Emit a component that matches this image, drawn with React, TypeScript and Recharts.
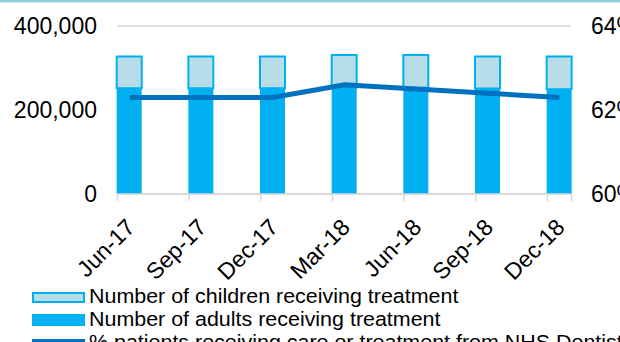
import React from "react";
import {
  ComposedChart,
  Bar,
  Line,
  XAxis,
  YAxis,
  CartesianGrid,
} from "recharts";

const categories = ["Jun-17", "Sep-17", "Dec-17", "Mar-18", "Jun-18", "Sep-18", "Dec-18"];
const adults = [251700, 251700, 251500, 253100, 253000, 251000, 249300];
const children = [75700, 75700, 75900, 77900, 78000, 76400, 78100];
const percentPatients = [62.3, 62.3, 62.3, 62.6, 62.5, 62.4, 62.3];
const leftTicks = [0, 200000, 400000];
const rightTicks = [60, 62, 64];
const legendLabels = [
  "Number of children receiving treatment",
  "Number of adults receiving treatment",
  "% patients receiving care or treatment from NHS Dentists",
];

const data = categories.map((c, i) => ({
  name: c,
  adults: adults[i],
  children: children[i],
  pct: percentPatients[i],
}));

const FONT = "'Liberation Sans', Arial, sans-serif";
const GRID = "#D9D9D9";

const XTick = (props: any) => {
  const { x, y, payload, index } = props;
  const lastIndex = categories.length - 1;
  return (
    <g>
      <line x1={x - 12} x2={x - 12} y1={y} y2={y + 7} stroke={GRID} strokeWidth={1.5} />
      {index === lastIndex && (
        <line x1={x + 12} x2={x + 12} y1={y} y2={y + 7} stroke={GRID} strokeWidth={1.5} />
      )}
      <g transform={`translate(${x + 1},${y + 29})`}>
        <text
          transform="rotate(-45)"
          textAnchor="end"
          dy="0.35em"
          fill="#000"
          fontSize={23}
          fontFamily={FONT}
        >
          {payload.value}
        </text>
      </g>
    </g>
  );
};

const fmt = (v: number) => v.toLocaleString("en-US");

const LegendRows = () => {
  const baselines = [303.3, 326, 348.5];
  return (
    <g>
      <rect x={0} y={0} width={620} height={2.5} fill="#93CDDD" />
      <rect x={33} y={293} width={51} height={9} fill="#B7DDE8" stroke="#00B0F0" strokeWidth={2} />
      <rect x={32} y={314} width={53} height={12} fill="#00B0F0" />
      <rect x={32} y={339} width={53} height={6} fill="#0070C0" />
      {legendLabels.map((label, i) => (
        <text
          key={label}
          transform={`translate(89 ${baselines[i]}) scale(1.1 1)`}
          fontSize={19.5}
          fontFamily={FONT}
          fill="#000"
        >
          {label}
        </text>
      ))}
    </g>
  );
};

export default function App() {
  return (
    <div
      style={{
        position: "fixed",
        left: 0,
        top: 0,
        width: 620,
        height: 342,
        overflow: "hidden",
        background: "#fff",
        fontFamily: FONT,
      }}
    >
      <ComposedChart
        width={620}
        height={342}
        data={data}
        margin={{ top: 26, right: 0, left: 0, bottom: 0 }}
      >
        <CartesianGrid horizontal vertical={false} stroke={GRID} strokeWidth={1.5} />
        <XAxis
          dataKey="name"
          xAxisId="x"
          height={148}
          padding={{ left: -23.3, right: -24.3 }}
          axisLine={{ stroke: GRID, strokeWidth: 1.5 }}
          tickLine={false}
          tickSize={0}
          tickMargin={0}
          interval={0}
          tick={<XTick />}
        />
        <YAxis
          yAxisId="left"
          orientation="left"
          width={117}
          domain={[0, 400000]}
          ticks={leftTicks}
          tickFormatter={fmt}
          axisLine={false}
          tickLine={false}
          tickMargin={14}
          tick={{ fill: "#000", fontSize: 23, fontFamily: FONT }}
        />
        <YAxis
          yAxisId="right"
          orientation="right"
          width={49}
          domain={[60, 64]}
          ticks={rightTicks}
          tickFormatter={(v: number) => `${v}%`}
          axisLine={false}
          tickLine={false}
          tickMargin={14}
          tick={{ fill: "#000", fontSize: 23, fontFamily: FONT, textAnchor: "start" }}
        />
        <Bar
          xAxisId="x"
          yAxisId="left"
          dataKey="adults"
          stackId="a"
          fill="#00B0F0"
          barSize={25}
          isAnimationActive={false}
        />
        <Bar
          xAxisId="x"
          yAxisId="left"
          dataKey="children"
          stackId="a"
          fill="#B7DDE8"
          stroke="#00B0F0"
          strokeWidth={2}
          barSize={25}
          isAnimationActive={false}
        />
        <Line
          xAxisId="x"
          yAxisId="right"
          dataKey="pct"
          stroke="#0070C0"
          strokeWidth={5}
          dot={false}
          activeDot={false}
          isAnimationActive={false}
        />
        <LegendRows />
      </ComposedChart>
    </div>
  );
}
